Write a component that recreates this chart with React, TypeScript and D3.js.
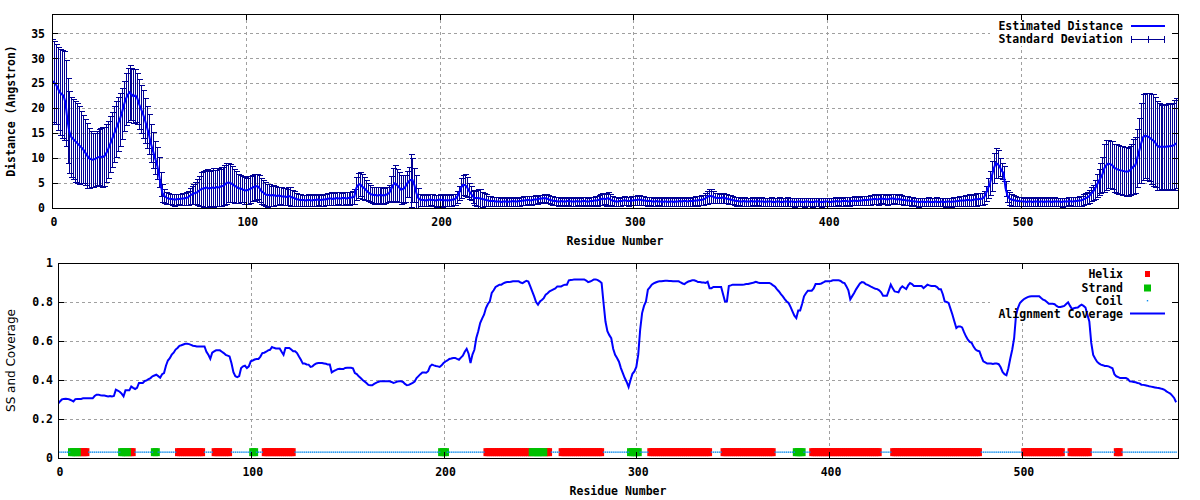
import React from "react";
import * as d3 from "d3";

// ---------- data ----------
const RESIDUE_TICKS = [0, 100, 200, 300, 400, 500];
const DIST_TICKS = [0, 5, 10, 15, 20, 25, 30, 35];
const COV_TICKS = [0, 0.2, 0.4, 0.6, 0.8, 1];
const COV_TICK_LABELS = ["0", "0.2", "0.4", "0.6", "0.8", "1"];

// Estimated distance per residue (0..580)
const DISTANCE = [
  25.5,25.2,24.8,24.0,23.2,22.8,22.5,21.0,17.5,15.2,
  14.2,13.8,13.4,13.0,12.6,12.2,11.8,11.2,10.6,10.0,
  9.8,9.7,9.8,10.0,10.2,10.3,10.2,10.4,11.0,11.8,
  12.8,13.8,14.8,15.8,16.8,17.8,19.0,20.5,21.8,22.6,
  23.2,22.8,22.4,22.6,22.0,20.8,19.8,18.8,17.6,16.2,
  14.8,13.0,11.6,10.2,9.0,7.2,4.8,3.0,2.4,2.1,
  1.9,1.8,1.8,1.7,1.7,1.8,1.8,1.9,1.9,2.0,
  2.1,2.4,2.7,2.9,3.0,3.2,3.5,3.8,3.9,4.0,
  4.1,3.9,4.0,4.1,4.0,4.2,4.1,4.3,4.4,4.6,
  5.0,5.1,5.0,4.8,4.5,4.3,4.0,3.9,3.8,3.6,
  3.5,3.6,3.8,4.0,4.2,4.3,4.4,4.0,3.4,3.1,
  2.8,2.6,2.6,2.5,2.6,2.5,2.4,2.5,2.4,2.3,
  2.3,2.2,2.4,2.3,2.1,2.0,1.8,1.7,1.6,1.6,
  1.6,1.5,1.6,1.6,1.5,1.6,1.6,1.7,1.6,1.6,
  1.7,1.7,1.8,1.9,1.9,1.8,1.9,2.0,1.9,1.9,
  2.0,2.0,1.9,2.0,2.1,2.1,2.3,4.0,4.6,4.8,
  4.3,4.0,3.6,3.2,2.9,2.7,2.6,2.6,2.5,2.6,
  2.6,2.5,2.6,2.8,3.0,3.8,4.6,5.0,4.6,4.2,
  3.7,3.8,4.0,4.8,5.3,5.6,5.6,4.6,3.0,2.0,
  1.7,1.6,1.6,1.5,1.6,1.7,1.6,1.6,1.5,1.6,
  1.7,1.6,1.6,1.5,1.6,1.5,1.6,1.7,1.8,2.2,
  3.0,4.0,4.6,4.6,4.3,3.5,3.0,2.4,2.0,2.0,
  2.0,1.9,1.8,1.7,1.6,1.5,1.4,1.4,1.4,1.3,
  1.3,1.3,1.2,1.3,1.3,1.2,1.3,1.3,1.4,1.3,
  1.3,1.4,1.4,1.5,1.5,1.6,1.6,1.5,1.6,1.7,
  1.7,1.8,1.9,1.9,2.0,1.9,1.8,1.6,1.5,1.4,
  1.4,1.3,1.3,1.4,1.3,1.3,1.4,1.4,1.3,1.3,
  1.3,1.4,1.3,1.3,1.4,1.4,1.3,1.3,1.4,1.4,
  1.5,1.5,1.6,1.7,1.9,1.8,1.8,2.0,1.7,1.5,
  1.4,1.3,1.3,1.4,1.4,1.5,1.5,1.4,1.4,1.5,
  1.5,1.6,1.6,1.7,1.6,1.5,1.5,1.4,1.4,1.4,
  1.3,1.3,1.4,1.3,1.3,1.2,1.3,1.3,1.2,1.3,
  1.3,1.2,1.3,1.3,1.4,1.3,1.4,1.4,1.3,1.4,
  1.4,1.4,1.5,1.5,1.6,1.6,1.7,1.9,2.2,2.4,
  2.4,2.3,2.1,2.0,2.0,2.0,2.1,2.0,1.9,1.8,
  1.7,1.6,1.5,1.4,1.4,1.3,1.3,1.4,1.3,1.3,
  1.3,1.4,1.3,1.3,1.4,1.3,1.3,1.3,1.2,1.3,
  1.3,1.3,1.2,1.2,1.3,1.3,1.2,1.2,1.3,1.3,
  1.2,1.3,1.3,1.2,1.2,1.3,1.3,1.2,1.2,1.3,
  1.3,1.2,1.2,1.2,1.3,1.3,1.2,1.2,1.2,1.3,
  1.3,1.2,1.2,1.3,1.3,1.4,1.3,1.3,1.4,1.4,
  1.4,1.3,1.4,1.4,1.5,1.4,1.4,1.5,1.5,1.6,
  1.6,1.6,1.7,1.7,1.8,1.8,1.7,1.8,1.9,1.8,
  1.8,1.7,1.8,1.9,1.9,1.8,1.7,1.8,1.7,1.6,
  1.6,1.5,1.5,1.4,1.4,1.3,1.3,1.2,1.2,1.3,
  1.2,1.2,1.3,1.2,1.2,1.2,1.3,1.2,1.2,1.3,
  1.2,1.2,1.3,1.3,1.2,1.3,1.3,1.4,1.4,1.5,
  1.5,1.5,1.6,1.6,1.5,1.6,1.7,1.7,1.8,1.8,
  1.9,2.2,3.0,4.0,5.0,6.5,8.0,9.0,8.8,8.3,
  7.5,7.0,4.0,2.5,1.9,1.7,1.6,1.5,1.4,1.4,
  1.3,1.3,1.3,1.2,1.3,1.3,1.2,1.3,1.3,1.2,
  1.3,1.3,1.2,1.3,1.3,1.3,1.2,1.3,1.3,1.3,
  1.3,1.2,1.3,1.3,1.3,1.4,1.3,1.3,1.4,1.4,
  1.5,1.5,1.7,1.9,2.1,2.3,2.8,3.2,3.7,4.5,
  5.3,6.0,6.8,8.0,8.6,8.9,8.8,8.6,8.1,7.9,
  7.7,7.6,7.5,7.4,7.3,7.3,7.5,7.9,8.3,8.6,
  10.0,11.5,13.0,14.2,14.5,14.4,14.2,13.9,13.6,13.3,
  12.6,12.3,12.3,12.3,12.3,12.3,12.4,12.4,12.5,12.6,13.0,
];

// Standard deviation per residue (0..580)
const STD_DEV = [
  8.3,8.3,8.0,8.3,8.6,8.8,8.9,8.6,8.5,8.2,
  8.0,8.0,8.1,8.0,7.8,7.2,6.8,6.6,6.5,6.0,
  5.6,5.4,5.3,5.4,5.6,5.8,6.0,5.9,5.8,5.7,
  5.6,5.5,5.6,5.6,5.4,5.3,5.1,5.0,5.2,5.4,
  5.5,5.2,5.4,5.3,5.1,5.0,4.8,4.8,4.5,4.2,
  4.0,3.8,3.6,3.3,3.2,3.0,2.4,1.8,1.4,1.2,
  1.1,1.0,1.1,1.2,1.1,1.0,1.1,1.2,1.2,1.3,
  1.4,1.6,1.8,2.0,2.2,2.6,3.0,3.4,3.6,3.7,
  3.8,3.5,3.7,3.9,3.6,3.8,3.7,3.9,3.8,4.0,
  4.1,3.9,3.8,3.6,3.4,3.2,2.9,2.7,2.6,2.7,
  2.6,2.8,2.7,2.6,2.7,2.6,2.5,2.7,2.6,2.5,
  2.4,2.3,2.2,2.0,2.1,1.9,1.8,1.7,1.8,1.7,
  1.7,1.6,1.8,1.9,1.6,1.5,1.3,1.2,1.2,1.1,
  1.1,1.1,1.2,1.1,1.1,1.2,1.1,1.1,1.2,1.1,
  1.2,1.1,1.2,1.2,1.3,1.2,1.3,1.2,1.3,1.2,
  1.3,1.2,1.3,1.3,1.2,1.3,1.5,2.3,2.5,2.4,
  2.5,2.3,2.0,1.8,1.7,1.6,1.7,1.6,1.7,1.6,
  1.7,1.6,1.6,1.5,1.6,2.6,3.4,3.6,3.3,3.0,
  2.9,2.8,2.7,2.6,3.0,5.3,4.4,3.4,3.6,2.0,
  1.2,1.1,1.2,1.1,1.2,1.1,1.2,1.1,1.2,1.1,
  1.2,1.3,1.2,1.1,1.2,1.1,1.2,1.1,1.1,1.2,
  1.4,2.0,2.0,2.2,2.0,1.6,1.4,1.3,1.4,1.6,
  1.9,2.0,1.5,1.3,1.2,1.0,1.0,0.9,0.9,0.9,
  0.9,0.8,0.8,0.9,0.8,0.8,0.9,0.8,0.9,0.8,
  0.8,0.9,0.8,0.9,0.9,0.8,0.9,0.9,0.8,0.9,
  0.8,0.8,0.7,0.8,0.8,0.9,0.8,0.8,0.9,0.8,
  0.8,0.9,0.8,0.8,0.9,0.8,0.8,0.9,0.8,0.8,
  0.9,0.8,0.8,0.9,0.8,0.8,0.8,0.9,0.8,0.9,
  0.9,1.0,1.0,1.1,1.2,1.0,1.3,1.3,1.1,1.0,
  0.9,0.9,0.8,0.9,0.8,0.9,0.8,0.9,0.8,0.9,
  0.9,0.9,1.0,1.0,0.9,0.9,0.8,0.9,0.8,0.9,
  0.8,0.9,0.8,0.8,0.9,0.8,0.9,0.8,0.8,0.9,
  0.8,0.8,0.9,0.8,0.9,0.8,0.9,0.9,0.8,0.9,
  0.9,0.9,0.9,1.0,0.9,1.0,1.0,1.1,1.3,1.4,
  1.4,1.2,1.0,1.0,0.9,0.9,1.0,0.9,0.9,0.9,
  0.9,0.8,0.8,0.9,0.8,0.8,0.8,0.9,0.8,0.8,
  0.8,0.8,0.9,0.8,0.8,0.8,0.9,0.8,0.8,0.8,
  0.8,0.9,0.8,0.8,0.8,0.9,0.8,0.8,0.8,0.9,
  0.8,0.8,0.8,0.9,0.8,0.8,0.8,0.8,0.9,0.8,
  0.8,0.8,0.9,0.8,0.8,0.8,0.8,0.9,0.8,0.8,
  0.8,0.8,0.8,0.8,0.9,0.8,0.8,0.8,0.9,0.8,
  0.8,0.9,0.8,0.8,0.9,0.8,0.8,0.9,0.9,0.9,
  0.9,0.9,1.0,0.9,1.0,0.9,1.0,1.0,0.9,1.0,
  0.9,1.0,1.0,1.0,0.9,1.0,0.9,1.0,0.9,0.9,
  0.9,0.9,0.8,0.9,0.8,0.8,0.8,0.9,0.8,0.8,
  0.8,0.8,0.9,0.8,0.8,0.8,0.9,0.8,0.8,0.8,
  0.8,0.9,0.8,0.8,0.9,0.9,0.9,0.9,1.0,1.0,
  1.0,1.1,1.1,1.2,1.1,1.2,1.2,1.3,1.2,1.2,
  1.2,1.3,1.5,2.0,2.4,3.0,3.0,3.0,2.8,1.8,
  1.6,1.5,1.5,1.2,1.3,1.2,1.1,1.0,0.9,0.9,
  0.9,0.8,0.9,0.8,0.8,0.9,0.8,0.8,0.9,0.8,
  0.8,0.9,0.8,0.8,0.9,0.8,0.8,0.9,0.8,0.8,
  0.8,0.9,0.8,0.8,0.9,0.8,0.9,0.9,0.9,0.9,
  1.0,1.0,1.1,1.1,1.2,1.3,1.4,1.5,1.9,2.3,
  2.6,3.0,3.5,4.8,5.0,4.8,4.7,4.8,4.8,4.9,
  4.9,4.8,4.9,4.8,4.9,4.8,4.9,5.0,5.5,5.6,
  5.8,6.5,8.0,8.6,8.5,8.7,8.8,9.0,9.2,9.0,
  8.9,8.7,8.4,8.6,8.4,8.5,8.7,8.5,8.6,9.0,9.0,
];

// Alignment coverage per residue (0..580)
const COVERAGE = [
  .278,.290,.300,.303,.304,.303,.300,.295,.290,.302,
  .303,.303,.303,.306,.306,.306,.306,.306,.306,.318,
  .325,.325,.322,.320,.320,.318,.316,.318,.316,.318,
  .350,.345,.340,.330,.316,.347,.347,.347,.367,.360,
  .354,.360,.385,.385,.385,.395,.398,.405,.410,.419,
  .423,.427,.420,.412,.430,.436,.473,.500,.512,.530,
  .540,.556,.564,.575,.578,.582,.586,.586,.584,.580,
  .576,.574,.572,.572,.572,.572,.572,.545,.529,.509,
  .540,.547,.552,.552,.552,.545,.538,.529,.525,.521,
  .486,.440,.419,.415,.420,.461,.470,.473,.461,.470,
  .496,.500,.505,.508,.508,.520,.538,.540,.545,.552,
  .555,.569,.565,.562,.562,.562,.545,.529,.564,.564,
  .564,.556,.547,.547,.538,.520,.504,.484,.484,.480,
  .479,.467,.470,.479,.485,.487,.487,.487,.485,.483,
  .479,.479,.439,.445,.450,.456,.458,.456,.456,.462,
  .463,.463,.463,.460,.436,.430,.419,.410,.400,.393,
  .385,.375,.373,.373,.380,.385,.390,.393,.393,.393,
  .393,.393,.393,.390,.385,.388,.392,.393,.393,.390,
  .380,.373,.375,.380,.385,.392,.410,.420,.430,.439,
  .439,.437,.445,.470,.479,.475,.472,.470,.467,.475,
  .487,.495,.500,.508,.510,.513,.513,.508,.504,.515,
  .525,.545,.560,.535,.487,.530,.555,.615,.650,.692,
  .715,.735,.769,.790,.803,.846,.860,.877,.883,.889,
  .889,.895,.900,.902,.902,.904,.906,.906,.906,.906,
  .900,.897,.903,.909,.905,.880,.855,.829,.800,.786,
  .803,.810,.820,.838,.845,.855,.860,.865,.870,.880,
  .880,.880,.885,.889,.889,.911,.913,.914,.916,.916,
  .916,.916,.916,.916,.910,.902,.905,.910,.916,.916,
  .912,.906,.897,.795,.700,.650,.630,.615,.560,.529,
  .513,.494,.461,.435,.410,.390,.364,.400,.432,.444,
  .467,.530,.658,.743,.780,.803,.863,.875,.889,.895,
  .900,.904,.906,.906,.908,.909,.909,.908,.908,.907,
  .906,.906,.906,.900,.895,.892,.900,.905,.908,.911,
  .911,.908,.902,.902,.900,.900,.898,.904,.871,.871,
  .877,.877,.877,.877,.877,.840,.803,.803,.882,.885,
  .889,.889,.889,.889,.889,.889,.890,.892,.892,.895,
  .897,.900,.904,.900,.898,.898,.898,.898,.898,.898,
  .893,.885,.878,.865,.854,.840,.829,.815,.803,.795,
  .775,.752,.730,.718,.757,.757,.790,.829,.845,.858,
  .858,.858,.870,.892,.892,.892,.895,.900,.906,.906,
  .906,.908,.911,.911,.911,.911,.908,.900,.897,.880,
  .860,.814,.830,.846,.865,.880,.895,.902,.900,.892,
  .888,.883,.877,.872,.868,.866,.860,.850,.832,.832,
  .832,.860,.889,.870,.854,.852,.850,.870,.880,.873,
  .866,.885,.897,.892,.882,.882,.882,.882,.882,.871,
  .880,.889,.885,.882,.882,.882,.877,.866,.866,.840,
  .803,.800,.795,.765,.735,.700,.667,.675,.675,.670,
  .645,.624,.607,.595,.590,.570,.556,.550,.547,.520,
  .496,.490,.484,.484,.484,.482,.484,.484,.481,.465,
  .441,.430,.424,.460,.510,.555,.615,.735,.770,.795,
  .805,.814,.820,.825,.828,.829,.829,.829,.829,.829,
  .820,.812,.808,.800,.791,.791,.791,.789,.780,.774,
  .774,.777,.780,.790,.798,.780,.764,.768,.770,.772,
  .780,.786,.780,.772,.735,.700,.590,.529,.510,.494,
  .485,.479,.476,.472,.472,.470,.465,.460,.430,.419,
  .415,.410,.410,.410,.410,.405,.393,.392,.390,.388,
  .385,.383,.376,.375,.373,.371,.368,.366,.364,.362,
  .360,.359,.356,.354,.350,.342,.336,.330,.320,.308,.286,
];

// Secondary structure segments: [type, first residue, last residue]; rest is coil
const SS_SEGMENTS: [string, number, number][] = [
  ["E", 7, 10], ["H", 11, 15], ["E", 33, 36], ["H", 37, 39], ["E", 50, 51],
  ["H", 62, 75], ["H", 81, 89], ["E", 101, 102], ["H", 107, 122],
  ["E", 199, 201], ["H", 222, 245], ["E", 246, 252], ["H", 253, 255],
  ["H", 261, 282], ["E", 297, 301], ["H", 307, 338], ["H", 345, 371],
  ["E", 383, 386], ["H", 391, 426], ["H", 433, 478], ["H", 501, 521],
  ["H", 525, 535], ["H", 549, 551],
];
const SS_LEVEL = 0.03;

// ---------- drawing ----------
const MONO = "'DejaVu Sans Mono', monospace";
const FS = 11.5;
const GRID = "#a0a0a0";
const BAR_COLOR = "#000094";
const LINE_BLUE = "#0000ff";

export default function App() {
  const N = DISTANCE.length;
  const residues = d3.range(N);

  // top panel
  const T = { l: 52, r: 1178, t: 14, b: 208 };
  const xT = d3.scaleLinear().domain([0, 581]).range([T.l, T.r]);
  const yT = d3.scaleLinear().domain([0, 38.9]).range([T.b, T.t]);
  // bottom panel
  const B = { l: 58, r: 1178, t: 263, b: 458 };
  const xB = d3.scaleLinear().domain([0, 581]).range([B.l, B.r]);
  const yB = d3.scaleLinear().domain([0, 1]).range([B.b, B.t]);

  const distPath = d3.line<number>().x((_, i) => xT(i)).y((d) => yT(d))(DISTANCE) || "";
  const covPath = d3.line<number>().x((_, i) => xB(i)).y((d) => yB(d))(COVERAGE) || "";

  let barPath = "";
  residues.forEach((i) => {
    const x = Math.round(xT(i)) + 0.5;
    const lo = Math.round(yT(Math.max(0, DISTANCE[i] - STD_DEV[i]))) + 0.5;
    const hi = Math.round(yT(DISTANCE[i] + STD_DEV[i])) + 0.5;
    barPath += `M${x},${lo}V${hi}M${x - 3},${hi}H${x + 3}M${x - 3},${lo}H${x + 3}`;
  });

  const ssType: string[] = residues.map(() => "C");
  SS_SEGMENTS.forEach(([t, a, b]) => {
    for (let i = a; i <= b; i++) ssType[i] = t;
  });
  const ssY = yB(SS_LEVEL);

  const tickLen = 6;

  const panelFrame = (
    P: { l: number; r: number; t: number; b: number },
    xs: d3.ScaleLinear<number, number>,
    ys: d3.ScaleLinear<number, number>,
    yTicks: number[],
    key: { x: number; y: number; w: number; h: number },
    clipId: string
  ) => (
    <g>
      <g stroke={GRID} strokeDasharray="3,3" shapeRendering="crispEdges">
        {yTicks.filter((v) => v > 0).map((v) => (
          <line key={"gy" + v} x1={P.l} x2={P.r} y1={Math.round(ys(v)) + 0.5} y2={Math.round(ys(v)) + 0.5} />
        ))}
        {RESIDUE_TICKS.filter((v) => v > 0).map((v) => (
          <line key={"gx" + v} y1={P.t} y2={P.b} x1={Math.round(xs(v)) + 0.5} x2={Math.round(xs(v)) + 0.5} />
        ))}
      </g>
      <rect x={key.x} y={key.y} width={key.w} height={key.h} fill="#fff" />
      <clipPath id={clipId}>
        <rect x={P.l} y={P.t} width={P.r - P.l} height={P.b - P.t} />
      </clipPath>
    </g>
  );

  const axes = (
    P: { l: number; r: number; t: number; b: number },
    xs: d3.ScaleLinear<number, number>,
    ys: d3.ScaleLinear<number, number>,
    yTicks: number[]
  ) => (
    <g stroke="#000" shapeRendering="crispEdges" fill="none">
      {yTicks.map((v) => {
        const y = Math.round(ys(v)) + 0.5;
        return (
          <g key={"ty" + v}>
            <line x1={P.l} x2={P.l + tickLen} y1={y} y2={y} />
            <line x1={P.r - tickLen} x2={P.r} y1={y} y2={y} />
          </g>
        );
      })}
      {RESIDUE_TICKS.map((v) => {
        const x = Math.round(xs(v)) + 0.5;
        return (
          <g key={"tx" + v}>
            <line x1={x} x2={x} y1={P.b} y2={P.b - tickLen} />
            <line x1={x} x2={x} y1={P.t} y2={P.t + tickLen} />
          </g>
        );
      })}
      <rect x={P.l + 0.5} y={P.t + 0.5} width={P.r - P.l} height={P.b - P.t} />
    </g>
  );

  const textProps = {
    fontFamily: MONO,
    fontWeight: "bold" as const,
    fontSize: FS,
    fill: "#000",
  };

  return (
    <svg
      width={1200}
      height={500}
      style={{ position: "absolute", left: 0, top: 0, background: "#fff" }}
    >
      <rect x={0} y={0} width={1200} height={500} fill="#fff" />

      {/* ---------------- TOP PANEL ---------------- */}
      {panelFrame(T, xT, yT, DIST_TICKS, { x: 990, y: T.t + 1, w: T.r - 990, h: 31 }, "clipTop")}
      <g clipPath="url(#clipTop)">
        <path d={barPath} stroke={BAR_COLOR} strokeWidth={1} fill="none" shapeRendering="crispEdges" />
        <path d={distPath} stroke={LINE_BLUE} strokeWidth={2} fill="none" />
      </g>
      {axes(T, xT, yT, DIST_TICKS)}
      <g {...textProps}>
        {DIST_TICKS.map((v) => (
          <text key={"lyT" + v} x={45} y={yT(v)} dy="0.36em" textAnchor="end">{v}</text>
        ))}
        {RESIDUE_TICKS.map((v) => (
          <text key={"lxT" + v} x={xT(v) + 2} y={222} dy="0.36em" textAnchor="middle">{v}</text>
        ))}
        <text x={(T.l + T.r) / 2} y={241} dy="0.36em" textAnchor="middle">Residue Number</text>
        <text transform={`translate(11,${(T.t + T.b) / 2}) rotate(-90)`} dy="0.36em" textAnchor="middle">
          Distance (Angstron)
        </text>
        <text x={1123} y={26} dy="0.36em" textAnchor="end">Estimated Distance</text>
        <text x={1123} y={39} dy="0.36em" textAnchor="end">Standard Deviation</text>
      </g>
      <line x1={1131} x2={1165} y1={26} y2={26} stroke={LINE_BLUE} strokeWidth={2} />
      <g stroke={BAR_COLOR} strokeWidth={1} shapeRendering="crispEdges">
        <line x1={1131} x2={1165} y1={39.5} y2={39.5} />
        <line x1={1131.5} x2={1131.5} y1={36} y2={43} />
        <line x1={1164.5} x2={1164.5} y1={36} y2={43} />
        <line x1={1148.5} x2={1148.5} y1={36} y2={43} />
      </g>

      {/* ---------------- BOTTOM PANEL ---------------- */}
      {panelFrame(B, xB, yB, COV_TICKS, { x: 990, y: B.t + 1, w: B.r - 990, h: 57 }, "clipBot")}
      <g clipPath="url(#clipBot)">
        {residues.filter((i) => ssType[i] === "H").map((i) => (
          <rect key={"h" + i} x={xB(i) - 2.5} y={ssY - 4} width={5} height={8} fill="#ff0000" />
        ))}
        {residues.filter((i) => ssType[i] === "E").map((i) => (
          <rect key={"e" + i} x={xB(i) - 3.5} y={ssY - 4} width={7} height={8} fill="#00c000" />
        ))}
        {residues.filter((i) => ssType[i] === "C").map((i) => (
          <rect key={"c" + i} x={xB(i) - 0.7} y={ssY - 0.7} width={1.4} height={1.4} fill="#0a8cf0" />
        ))}
        <path d={covPath} stroke={LINE_BLUE} strokeWidth={2} fill="none" />
      </g>
      {axes(B, xB, yB, COV_TICKS)}
      <g {...textProps}>
        {COV_TICKS.map((v, k) => (
          <text key={"lyB" + v} x={53} y={yB(v)} dy="0.36em" textAnchor="end">{COV_TICK_LABELS[k]}</text>
        ))}
        {RESIDUE_TICKS.map((v) => (
          <text key={"lxB" + v} x={xB(v) + 2} y={472} dy="0.36em" textAnchor="middle">{v}</text>
        ))}
        <text x={(B.l + B.r) / 2} y={491} dy="0.36em" textAnchor="middle">Residue Number</text>
        <text x={1123} y={274} dy="0.36em" textAnchor="end">Helix</text>
        <text x={1123} y={287.5} dy="0.36em" textAnchor="end">Strand</text>
        <text x={1123} y={300.5} dy="0.36em" textAnchor="end">Coil</text>
        <text x={1123} y={313.5} dy="0.36em" textAnchor="end">Alignment Coverage</text>
      </g>
      <text
        transform={`translate(11,${(B.t + B.b) / 2}) rotate(-90)`}
        dy="0.36em"
        textAnchor="middle"
        fontFamily="'DejaVu Sans', sans-serif"
        fontSize={12}
        fill="#000"
      >
        SS and Coverage
      </text>
      <rect x={1145} y={271} width={5} height={6} fill="#ff0000" />
      <rect x={1144} y={284.5} width={7} height={7} fill="#00c000" />
      <rect x={1146.8} y={300} width={1.4} height={1.4} fill="#0a8cf0" />
      <line x1={1130} x2={1165} y1={313.5} y2={313.5} stroke={LINE_BLUE} strokeWidth={2} />
    </svg>
  );
}
